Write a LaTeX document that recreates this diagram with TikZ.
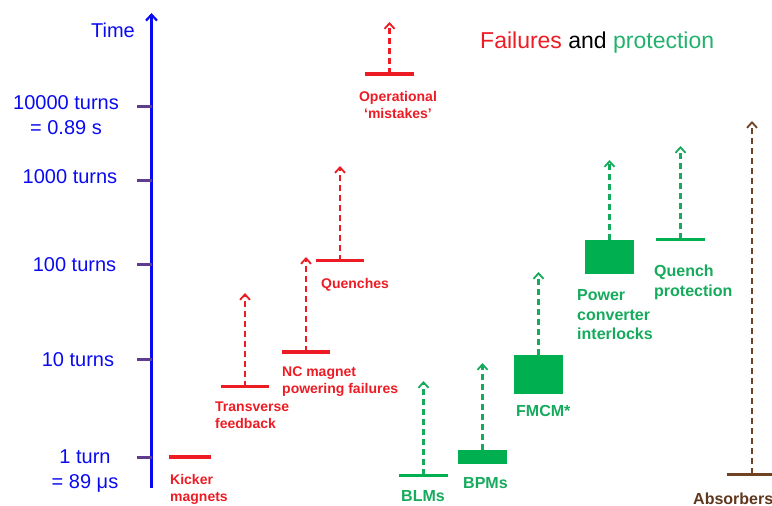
\documentclass[tikz,border=0pt]{standalone}
\usepackage{fontspec}
\setmainfont{Liberation Sans}
\usetikzlibrary{arrows.meta}

\definecolor{failred}{RGB}{237,28,36}
\definecolor{protgreen}{RGB}{0,176,80}
\definecolor{protgreentext}{RGB}{22,170,92}
\definecolor{titlegreen}{RGB}{34,178,110}
\definecolor{absbrown}{RGB}{112,66,36}
\definecolor{axisblue}{RGB}{10,10,240}
\definecolor{tickpurple}{RGB}{94,60,143}

\tikzset{
  bar/.style={rectangle, inner sep=0pt, draw=none, minimum height=3.5pt},
  redbar/.style={bar, fill=failred, minimum width=48pt},
  greenbar/.style={bar, fill=protgreen, minimum width=49pt, minimum height=3pt},
  greenbox/.style={bar, fill=protgreen, minimum width=49pt},
  brownbar/.style={bar, fill=absbrown, minimum width=50pt, minimum height=3pt},
  uparrow/.style={line width=2.1pt, dash pattern=on 6pt off 4pt,
    -{Straight Barb[length=5.5pt,width=10pt,line width=1.8pt]}},
  redarrow/.style={uparrow, draw=failred},
  greenarrow/.style={uparrow, draw=protgreentext},
  brownarrow/.style={uparrow, draw=absbrown},
  axislabel/.style={inner sep=0pt, text=axisblue, font=\fontsize{20}{24.5}\selectfont, align=center},
  redlabel/.style={inner sep=0pt, text=failred, font=\fontsize{14}{17}\selectfont\bfseries, align=left},
  greenlabel/.style={inner sep=0pt, text=protgreentext, font=\fontsize{16}{19.5}\selectfont\bfseries, align=left},
  tick/.style={draw=tickpurple, line width=3pt}
}

\begin{document}
\begin{tikzpicture}[x=1pt,y=-1pt]
\useasboundingbox (0,0) rectangle (772,506);

% time axis
\coordinate (axisBottom) at (151.5,488);
\coordinate (axisTop) at (151.5,13);
\draw[axisblue, line width=2.8pt, -{Straight Barb[length=6pt,width=11pt,line width=2.2pt]}] (axisBottom) -- (axisTop);

% ticks
\foreach \name/\yy in {t1/457, t10/359, t100/264, t1000/180, t10000/106} {
  \coordinate (\name a) at (137,\yy);
  \coordinate (\name b) at (151.5,\yy);
  \draw[tick] (\name a) -- (\name b);
}

% axis labels
\node[axislabel, anchor=base] (timeLbl) at (113,37) {Time};
\node[axislabel, anchor=north] (l10000) at (66,95.5) {10000 turns\\= 0.89 s};
\node[axislabel, anchor=base] (l1000) at (70,183) {1000 turns};
\node[axislabel, anchor=base] (l100) at (74.5,271) {100 turns};
\node[axislabel, anchor=base] (l10) at (78,366) {10 turns};
\node[axislabel, anchor=north] (l1) at (85,450) {1 turn\\= 89 μs};

% title
\node[inner sep=0pt, anchor=base west, font=\fontsize{23}{26}\selectfont] (title) at (480,48)
  {\textcolor{failred}{Failures} and \textcolor{titlegreen}{protection}};

% failures
\node[redbar, minimum width=42pt] (kick) at (190,457) {};
\node[redlabel, anchor=north west] (kickLbl) at (170,474) {Kicker\\magnets};

\node[redbar] (tf) at (245,386.5) {};
\coordinate (tfTip) at (245,293);
\draw[redarrow] (tf.center) -- (tfTip);
\node[redlabel, anchor=north west] (tfLbl) at (215,401.5) {Transverse\\feedback};

\node[redbar] (nc) at (306,352) {};
\coordinate (ncTip) at (306,257);
\draw[redarrow] (nc.center) -- (ncTip);
\node[redlabel, anchor=north west] (ncLbl) at (282,366.5) {NC magnet\\powering failures};

\node[redbar] (qu) at (340,260.5) {};
\coordinate (quTip) at (340,166);
\draw[redarrow] (qu.center) -- (quTip);
\node[redlabel, anchor=base west] (quLbl) at (321,288) {Quenches};

\node[redbar, minimum width=49pt] (op) at (389.5,74) {};
\coordinate (opTip) at (389.5,22);
\draw[redarrow] (op.center) -- (opTip);
\node[redlabel, align=center, anchor=north] (opLbl) at (398,91.5) {Operational\\‘mistakes’};

% protection
\node[greenbar] (blm) at (423.5,475) {};
\coordinate (blmTip) at (423.5,381);
\draw[greenarrow] (blm.center) -- (blmTip);
\node[greenlabel, anchor=base west] (blmLbl) at (401,501) {BLMs};

\node[greenbox, minimum height=14pt] (bpm) at (482.5,457) {};
\coordinate (bpmTip) at (482.5,363);
\draw[greenarrow] (bpm.north) -- (bpmTip);
\node[greenlabel, anchor=base west] (bpmLbl) at (463,488) {BPMs};

\node[greenbox, minimum height=39pt] (fmcm) at (538.5,374.5) {};
\coordinate (fmcmTip) at (538.5,272);
\draw[greenarrow] (fmcm.north) -- (fmcmTip);
\node[greenlabel, anchor=base west] (fmcmLbl) at (516,416.5) {FMCM*};

\node[greenbox, minimum height=34pt] (pc) at (609.5,257) {};
\coordinate (pcTip) at (609.5,160);
\draw[greenarrow] (pc.north) -- (pcTip);
\node[greenlabel, anchor=north west] (pcLbl) at (577,289.5) {Power\\converter\\interlocks};

\node[greenbar] (qp) at (680.5,239) {};
\coordinate (qpTip) at (680.5,146);
\draw[greenarrow] (qp.center) -- (qpTip);
\node[greenlabel, anchor=north west] (qpLbl) at (654,265) {Quench\\protection};

% absorbers
\node[brownbar] (abs) at (752,474) {};
\coordinate (absTip) at (752,121);
\draw[brownarrow] (abs.center) -- (absTip);
\node[inner sep=0pt, text=absbrown!85!black, font=\fontsize{16}{19.5}\selectfont\bfseries, anchor=base west] (absLbl) at (693,504) {Absorbers};

\end{tikzpicture}
\end{document}
